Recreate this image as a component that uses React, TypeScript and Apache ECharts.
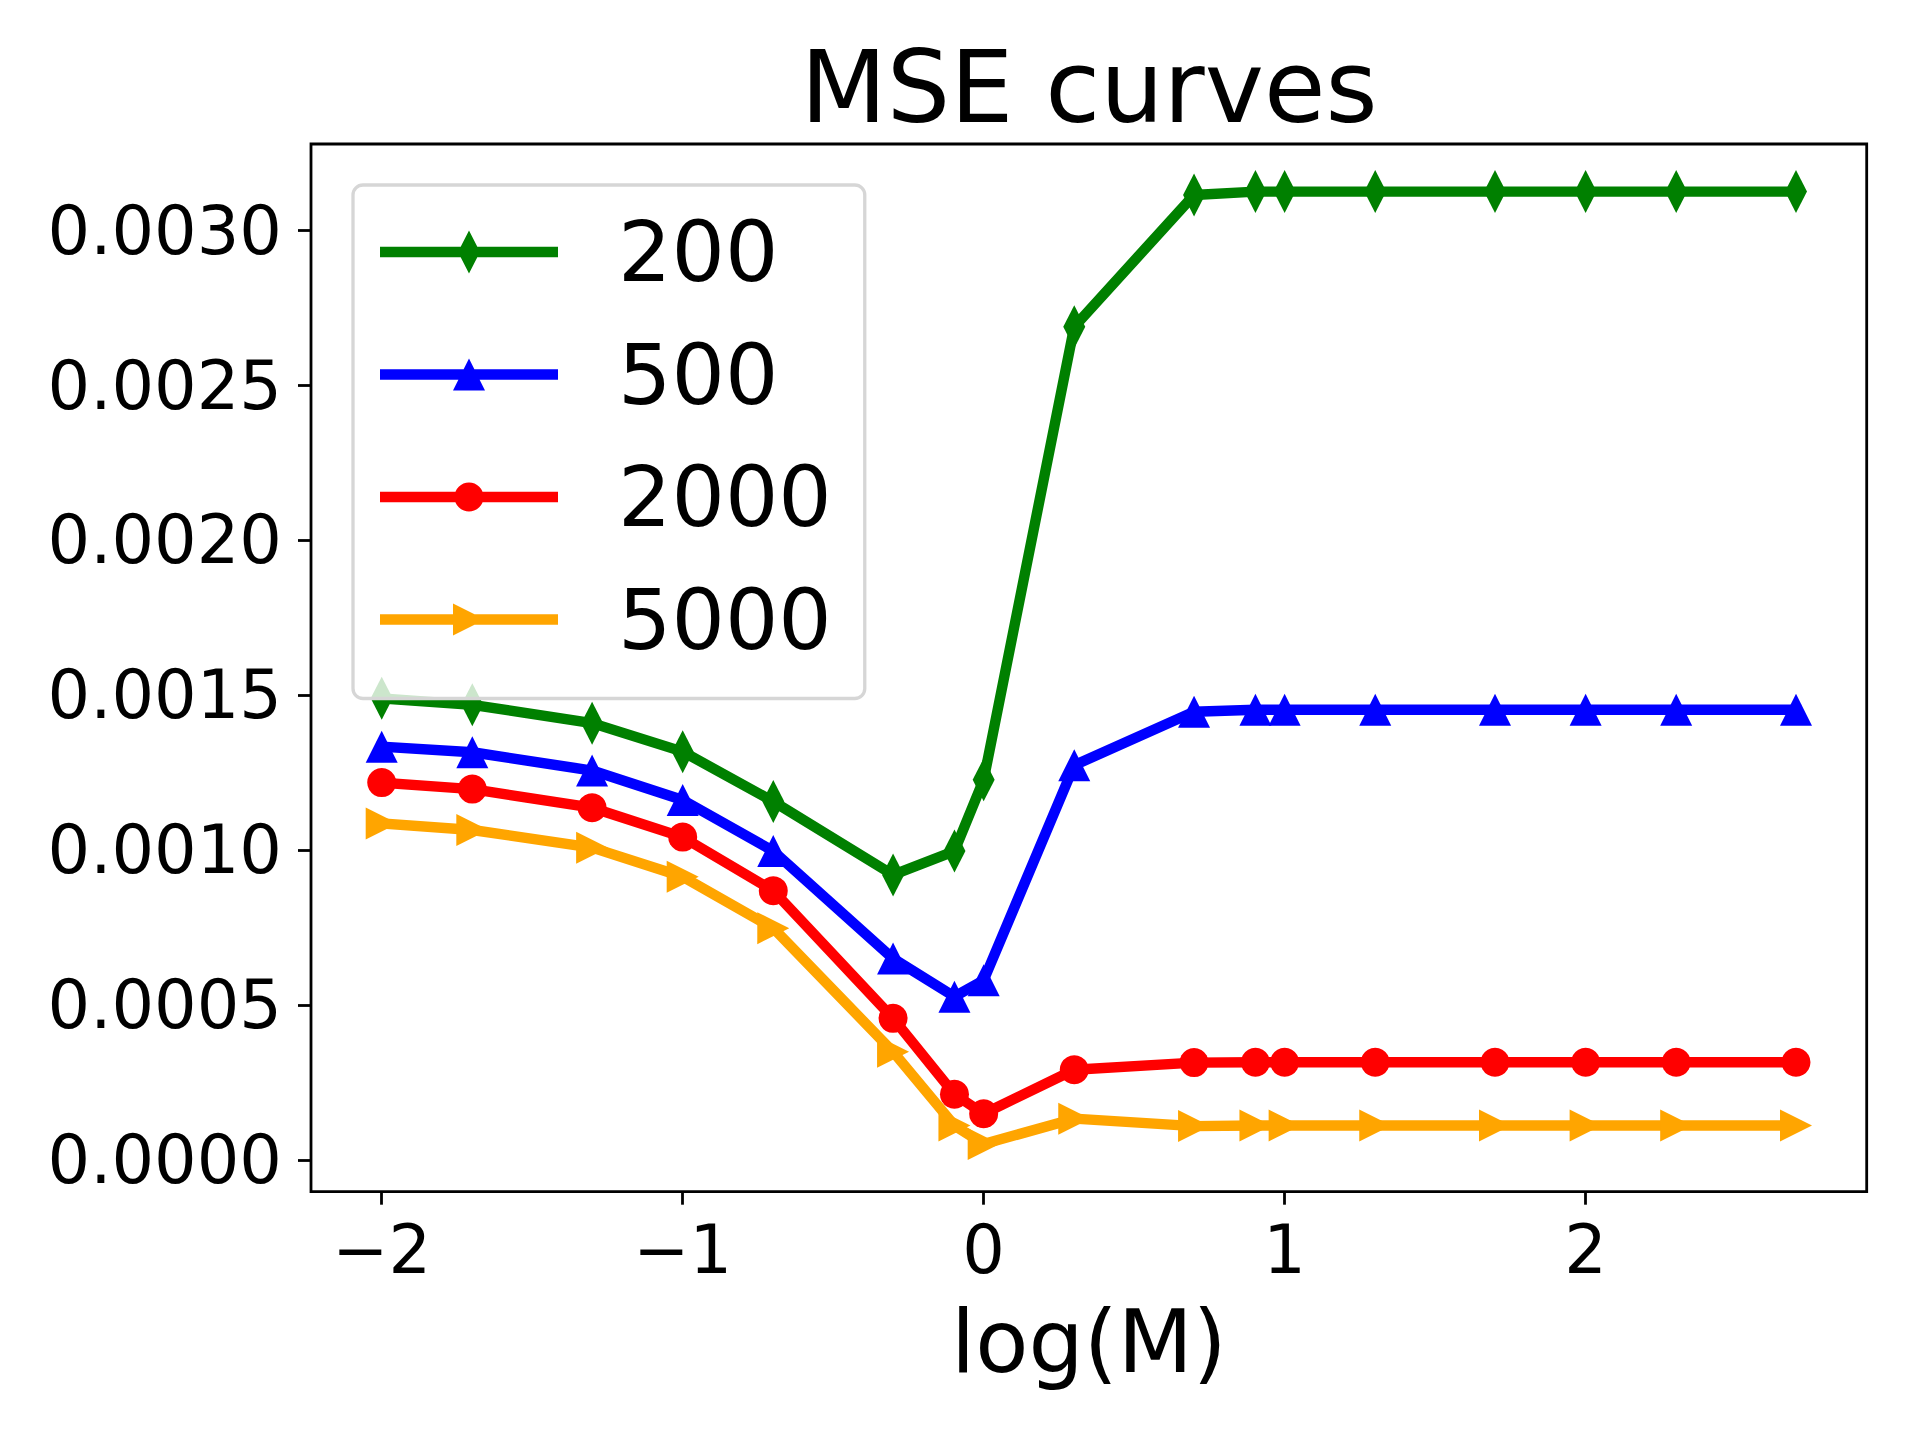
import React, { useEffect, useRef } from 'react';
import * as echarts from 'echarts';

const FONT = 'DejaVu Sans';

// x positions: log10(M)
const logM = [-2, -1.699, -1.301, -1, -0.699, -0.301, -0.097, 0, 0.301, 0.699, 0.903, 1, 1.301, 1.699, 2, 2.301, 2.699];

const seriesNames = ['200', '500', '2000', '5000'];

const mse200 = [0.00149, 0.001469, 0.00141, 0.001318, 0.001157, 0.00092, 0.000997, 0.001227, 0.00269, 0.003115, 0.003126, 0.003126, 0.003126, 0.003126, 0.003126, 0.003126, 0.003126];
const mse500 = [0.001334, 0.001316, 0.001257, 0.001162, 0.000997, 0.00065, 0.000527, 0.00058, 0.001274, 0.001447, 0.001453, 0.001453, 0.001453, 0.001453, 0.001453, 0.001453, 0.001453];
const mse2000 = [0.001218, 0.001197, 0.001137, 0.001042, 0.000869, 0.000457, 0.000212, 0.000149, 0.000291, 0.000314, 0.000315, 0.000315, 0.000315, 0.000315, 0.000315, 0.000315, 0.000315];
const mse5000 = [0.001086, 0.001065, 0.001008, 0.000914, 0.000748, 0.000349, 0.000111, 0.000051, 0.000133, 0.000109, 0.000111, 0.000111, 0.000111, 0.000111, 0.000111, 0.000111, 0.000111];

const xTicks = [-2, -1, 0, 1, 2];
const yTicks = [0, 0.0005, 0.001, 0.0015, 0.002, 0.0025, 0.003];

const colors = ['#008000', '#0000ff', '#ff0000', '#ffa500'];

// legend icons: line + marker, bbox 178 x 43
const LINE = 'M0,16.25 L178,16.25 L178,26.75 L0,26.75 Z';
const ANCHORS = ' M89,0 L89.01,0 L89.01,0.01 Z M89,43 L89.01,43 L89.01,42.99 Z';
const ICON_DIAMOND = 'path://' + LINE + ' M89,0 L100,21.5 L89,43 L78,21.5 Z';
const ICON_TRI_UP = 'path://' + LINE + ' M89,5.5 L105,37.5 L73,37.5 Z' + ANCHORS;
const ICON_CIRCLE = 'path://' + LINE + ' M74.5,21.5 A14.5,14.5 0 1,1 103.5,21.5 A14.5,14.5 0 1,1 74.5,21.5 Z' + ANCHORS;
const ICON_TRI_RIGHT = 'path://' + LINE + ' M73,5.5 L105,21.5 L73,37.5 Z' + ANCHORS;

function pairs(vals: number[]) {
  return logM.map((x, i) => [x, vals[i]]);
}

function margins(vals: number[]) {
  const lo = Math.min(...vals);
  const hi = Math.max(...vals);
  const pad = 0.05 * (hi - lo);
  return [lo - pad, hi + pad];
}

export default function App() {
  const ref = useRef<HTMLDivElement>(null);
  useEffect(() => {
    const chart = echarts.init(ref.current!, null, { renderer: 'svg' });
    const [xMin, xMax] = margins(logM);
    const [yMin, yMax] = margins([...mse200, ...mse500, ...mse2000, ...mse5000]);
    const lineCommon = {
      type: 'line',
      showSymbol: true,
      showAllSymbol: true,
      lineStyle: { width: 10.4, join: 'round', cap: 'square' },
      emphasis: { disabled: true },
    };
    const option: any = {
      animation: false,
      backgroundColor: '#ffffff',
      title: {
        text: 'MSE curves',
        left: 1089,
        top: 37,
        textAlign: 'center',
        padding: 0,
        textStyle: { fontFamily: FONT, fontSize: 100, fontWeight: 'normal', color: '#000', lineHeight: 100 },
      },
      grid: {
        left: 311,
        top: 144,
        right: 54.3,
        bottom: 245.3,
        show: true,
        borderColor: '#000',
        borderWidth: 2.8,
        backgroundColor: 'transparent',
      },
      legend: {
        orient: 'vertical',
        left: 353,
        top: 185,
        itemWidth: 178,
        itemHeight: 43,
        itemGap: 38.5,
        padding: [25, 33, 37, 27],
        backgroundColor: 'rgba(255,255,255,0.8)',
        borderColor: '#d6d6d6',
        borderWidth: 3.3,
        borderRadius: 10,
        selectedMode: false,
        itemStyle: { borderWidth: 0 },
        textStyle: { fontFamily: FONT, fontSize: 84, color: '#000', lineHeight: 84, padding: [0, 0, 0, 55] },
        data: [
          { name: seriesNames[0], icon: ICON_DIAMOND },
          { name: seriesNames[1], icon: ICON_TRI_UP },
          { name: seriesNames[2], icon: ICON_CIRCLE },
          { name: seriesNames[3], icon: ICON_TRI_RIGHT },
        ],
      },
      xAxis: {
        type: 'value',
        min: xMin,
        max: xMax,
        name: 'log(M)',
        nameLocation: 'middle',
        nameGap: 107,
        nameTextStyle: { fontFamily: FONT, fontSize: 87, color: '#000', lineHeight: 87 },
        axisLine: { show: false, onZero: false },
        splitLine: { show: false },
        axisTick: { show: true, length: 13, lineStyle: { color: '#000', width: 2.8 }, customValues: xTicks },
        axisLabel: {
          customValues: xTicks,
          margin: 25,
          fontFamily: FONT,
          fontSize: 67,
          color: '#000',
          lineHeight: 67,
          formatter: (v: number) => (v < 0 ? '\u2212' + Math.abs(v) : String(v)),
        },
      },
      yAxis: {
        type: 'value',
        min: yMin,
        max: yMax,
        axisLine: { show: false, onZero: false },
        splitLine: { show: false },
        axisTick: { show: true, length: 13, lineStyle: { color: '#000', width: 2.8 }, customValues: yTicks },
        axisLabel: {
          customValues: yTicks,
          margin: 29,
          fontFamily: FONT,
          fontSize: 67,
          color: '#000',
          formatter: (v: number) => v.toFixed(4),
        },
      },
      series: [
        { ...lineCommon, name: seriesNames[0], data: pairs(mse200), color: colors[0], symbol: 'diamond', symbolSize: [22, 43], itemStyle: { color: colors[0], borderWidth: 0 } },
        { ...lineCommon, name: seriesNames[1], data: pairs(mse500), color: colors[1], symbol: 'triangle', symbolSize: [32, 32], itemStyle: { color: colors[1], borderWidth: 0 } },
        { ...lineCommon, name: seriesNames[2], data: pairs(mse2000), color: colors[2], symbol: 'circle', symbolSize: 29, itemStyle: { color: colors[2], borderWidth: 0 } },
        { ...lineCommon, name: seriesNames[3], data: pairs(mse5000), color: colors[3], symbol: 'triangle', symbolRotate: -90, symbolSize: [32, 32], itemStyle: { color: colors[3], borderWidth: 0 } },
      ],
    };
    chart.setOption(option);
    return () => chart.dispose();
  }, []);
  return (
    <div
      ref={ref}
      style={{ position: 'absolute', left: 0, top: 0, width: 1921, height: 1437, background: '#fff' }}
    />
  );
}
